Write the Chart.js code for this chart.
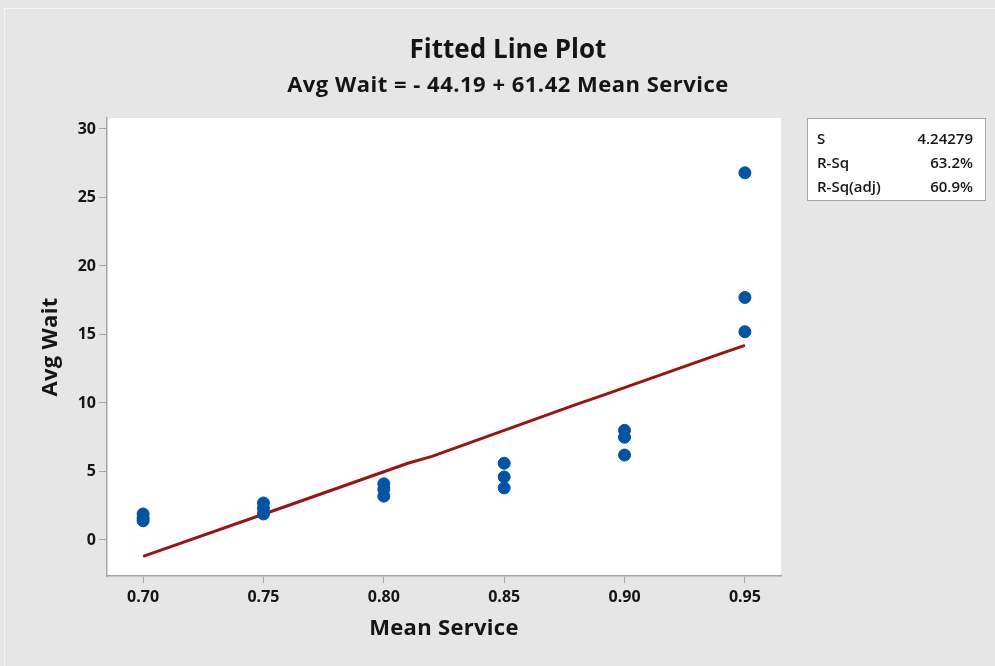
<!DOCTYPE html>
<html>
<head>
<meta charset="utf-8">
<script src="https://cdn.jsdelivr.net/npm/chart.js@4.4.1/dist/chart.umd.min.js"></script>
<style>
  html, body { margin: 0; padding: 0; background: #e6e6e6; }
  #wrap { width: 995px; height: 666px; }
</style>
</head>
<body>
<div id="wrap"><canvas id="chart-fit" width="995" height="666"></canvas></div>
<script>
// ------------------------------------------------------------
// Data
// ------------------------------------------------------------
const meanService = [0.70, 0.70, 0.70, 0.75, 0.75, 0.75, 0.80, 0.80, 0.80,
                     0.85, 0.85, 0.85, 0.90, 0.90, 0.90, 0.95, 0.95, 0.95];
const avgWait     = [1.9, 1.6, 1.4, 2.7, 2.3, 1.9, 4.1, 3.7, 3.2,
                     5.6, 4.6, 3.8, 8.0, 7.5, 6.2, 26.8, 17.7, 15.2];

const fitX = [0.70, 0.76, 0.81, 0.82, 0.88, 0.89, 0.94, 0.95];
const fitY = [-1.2, 2.5, 5.6, 6.1, 9.9, 10.5, 13.6, 14.2];

const xTicks = [0.70, 0.75, 0.80, 0.85, 0.90, 0.95];
const yTicks = [0, 5, 10, 15, 20, 25, 30];

const titleText = 'Fitted Line Plot';
const subtitleText = 'Avg Wait = - 44.19 + 61.42 Mean Service';
const xTitle = 'Mean Service';
const yTitle = 'Avg Wait';

const statLabels = ['S', 'R-Sq', 'R-Sq(adj)'];
const statValues = ['4.24279', '63.2%', '60.9%'];

const FONT = '"Open Sans", "Noto Sans", sans-serif';
const INK = '#151515';

// ------------------------------------------------------------
// Background, titles and the stats box
// ------------------------------------------------------------
const decor = {
  id: 'decor',
  beforeDraw(chart) {
    const { ctx, chartArea: a } = chart;
    ctx.save();
    ctx.fillStyle = '#e6e6e6';
    ctx.fillRect(0, 0, chart.width, chart.height);
    ctx.strokeStyle = '#f4f4f4';
    ctx.lineWidth = 1;
    ctx.strokeRect(4.5, 8.5, chart.width, chart.height);
    ctx.fillStyle = '#ffffff';
    ctx.fillRect(a.left, a.top, a.right - a.left, a.bottom - a.top);
    ctx.restore();
  },
  afterDraw(chart) {
    const { ctx, chartArea: a } = chart;
    ctx.save();
    ctx.fillStyle = INK;
    ctx.textAlign = 'center';
    ctx.textBaseline = 'middle';
    ctx.font = 'bold 26px ' + FONT;
    ctx.fillText(titleText, 508, 51);
    ctx.font = 'bold 22px ' + FONT;
    ctx.letterSpacing = '0.5px';
    ctx.fillText(subtitleText, 508, 86);

    // axis titles
    const cx = (a.left + a.right) / 2;
    ctx.font = 'bold 22px ' + FONT;
    ctx.letterSpacing = '0.3px';
    ctx.fillText(xTitle, cx, 629);
    ctx.translate(51, (a.top + a.bottom) / 2);
    ctx.rotate(-Math.PI / 2);
    ctx.fillText(yTitle, 0, 0);
    ctx.restore();

    // stats box
    ctx.save();
    const bx = 807, by = 118, bw = 178, bh = 82;
    ctx.fillStyle = '#ffffff';
    ctx.fillRect(bx, by, bw, bh);
    ctx.strokeStyle = '#a6a6a6';
    ctx.lineWidth = 1;
    ctx.strokeRect(bx + 0.5, by + 0.5, bw, bh);
    ctx.fillStyle = INK;
    ctx.font = '600 15px ' + FONT;
    ctx.textBaseline = 'middle';
    statLabels.forEach((lab, i) => {
      const y = by + 22 + i * 24;
      ctx.textAlign = 'left';
      ctx.fillText(lab, bx + 10, y);
      ctx.textAlign = 'right';
      ctx.fillText(statValues[i], bx + bw - 12, y);
    });
    ctx.restore();
  }
};

new Chart(document.getElementById('chart-fit'), {
  type: 'scatter',
  data: {
    datasets: [
      {
        label: 'Fit',
        type: 'line',
        data: fitX.map((x, i) => ({ x, y: fitY[i] })),
        borderColor: '#9b1414',
        borderWidth: 3,
        pointRadius: 0,
        tension: 0,
        fill: false,
        order: 2
      },
      {
        label: 'Avg Wait',
        data: meanService.map((x, i) => ({ x, y: avgWait[i] })),
        backgroundColor: '#0054a6',
        borderColor: '#0054a6',
        pointRadius: 6,
        pointHoverRadius: 6,
        order: 1
      }
    ]
  },
  options: {
    responsive: false,
    animation: false,
    layout: { padding: { top: 118, right: 214, left: 0, bottom: 0 } },
    plugins: {
      legend: { display: false },
      title: { display: false },
      tooltip: { enabled: false }
    },
    scales: {
      x: {
        type: 'linear',
        min: 0.685,
        max: 0.965,
        afterBuildTicks: axis => { axis.ticks = xTicks.map(v => ({ value: v })); },
        afterFit: axis => { axis.height = 90; },
        ticks: {
          color: INK,
          font: { family: FONT, size: 16, weight: 'bold' },
          padding: 5,
          callback: v => v.toFixed(2)
        },
        grid: { drawOnChartArea: false, color: '#a6a6a6', tickLength: 7 },
        border: { color: '#a6a6a6', width: 1.5 }
      },
      y: {
        type: 'linear',
        min: -2.63,
        max: 30.8,
        afterBuildTicks: axis => { axis.ticks = yTicks.map(v => ({ value: v })); },
        afterFit: axis => { axis.width = 107; },
        ticks: {
          color: INK,
          font: { family: FONT, size: 16, weight: 'bold' },
          padding: 3
        },
        grid: { drawOnChartArea: false, color: '#a6a6a6', tickLength: 8 },
        border: { color: '#a6a6a6', width: 1.5 }
      }
    }
  },
  plugins: [decor]
});
</script>
</body>
</html>
